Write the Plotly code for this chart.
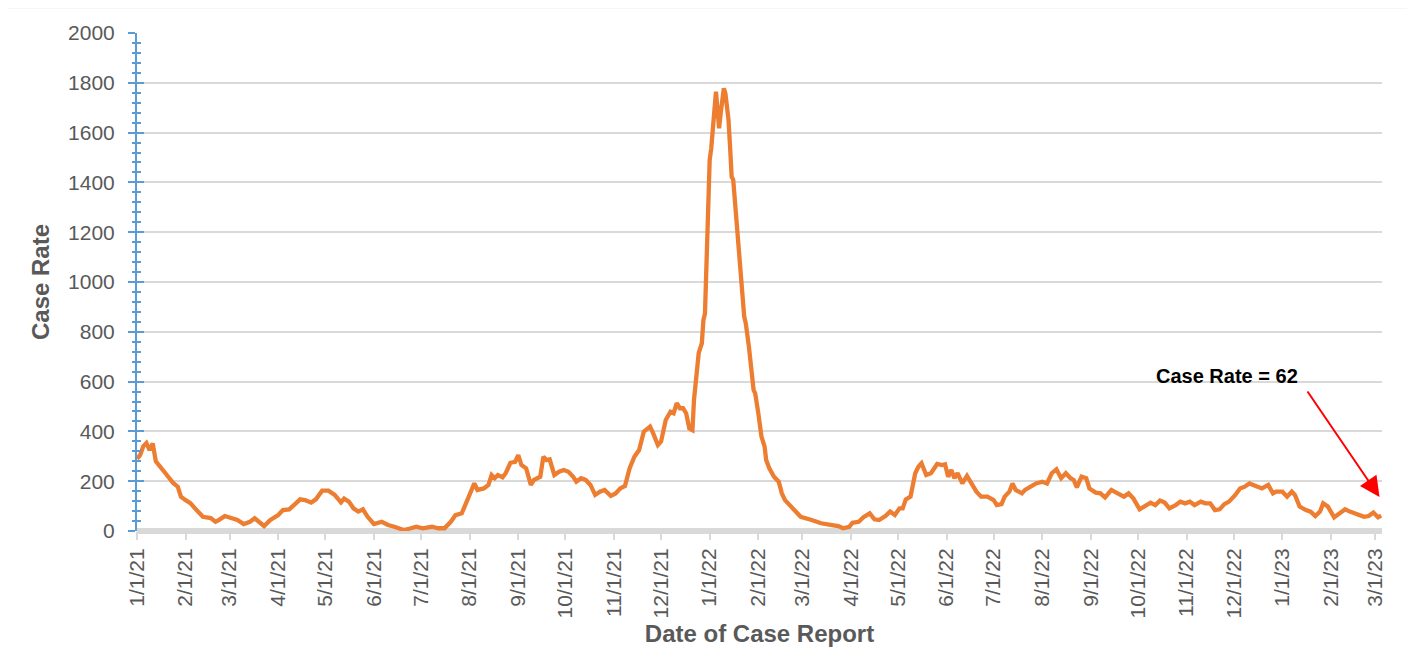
import plotly.graph_objects as go

# ---- data ----
report_dates = [
    "2021-01-01", "2021-01-03", "2021-01-05", "2021-01-07", "2021-01-09", "2021-01-11", "2021-01-13",
    "2021-01-16", "2021-01-19", "2021-01-21", "2021-01-24", "2021-01-27", "2021-01-29",
    "2021-02-01", "2021-02-04", "2021-02-08", "2021-02-12", "2021-02-17", "2021-02-20", "2021-02-22", "2021-02-26",
    "2021-03-02", "2021-03-06", "2021-03-10", "2021-03-14", "2021-03-17", "2021-03-20", "2021-03-23", "2021-03-27",
    "2021-04-01", "2021-04-04", "2021-04-08", "2021-04-11", "2021-04-15", "2021-04-18", "2021-04-22", "2021-04-25", "2021-04-29",
    "2021-05-03", "2021-05-07", "2021-05-11", "2021-05-13", "2021-05-16", "2021-05-19", "2021-05-22", "2021-05-25", "2021-05-28",
    "2021-06-01", "2021-06-06", "2021-06-10", "2021-06-14", "2021-06-20", "2021-06-24", "2021-06-28",
    "2021-07-02", "2021-07-08", "2021-07-12", "2021-07-16", "2021-07-20", "2021-07-23", "2021-07-27", "2021-07-30",
    "2021-08-02", "2021-08-04", "2021-08-06", "2021-08-10", "2021-08-13", "2021-08-15", "2021-08-17", "2021-08-19",
    "2021-08-22", "2021-08-24", "2021-08-27", "2021-08-30",
    "2021-09-01", "2021-09-03", "2021-09-06", "2021-09-09", "2021-09-11", "2021-09-15", "2021-09-17", "2021-09-19",
    "2021-09-21", "2021-09-24", "2021-09-27", "2021-09-30",
    "2021-10-03", "2021-10-06", "2021-10-08", "2021-10-11", "2021-10-14", "2021-10-17", "2021-10-20", "2021-10-23",
    "2021-10-26", "2021-10-30",
    "2021-11-02", "2021-11-05", "2021-11-08", "2021-11-11", "2021-11-14", "2021-11-17", "2021-11-20", "2021-11-24",
    "2021-11-26", "2021-11-29",
    "2021-12-01", "2021-12-04", "2021-12-07", "2021-12-09", "2021-12-11", "2021-12-13", "2021-12-15", "2021-12-17",
    "2021-12-19", "2021-12-21", "2021-12-22", "2021-12-23", "2021-12-25", "2021-12-27", "2021-12-28", "2021-12-29",
    "2021-12-31",
    "2022-01-01", "2022-01-02", "2022-01-04", "2022-01-05", "2022-01-06", "2022-01-07", "2022-01-08", "2022-01-10",
    "2022-01-11", "2022-01-13", "2022-01-14", "2022-01-15", "2022-01-16", "2022-01-18", "2022-01-19", "2022-01-21",
    "2022-01-23", "2022-01-24", "2022-01-26", "2022-01-29", "2022-01-30",
    "2022-02-01", "2022-02-03", "2022-02-05", "2022-02-06", "2022-02-08", "2022-02-11", "2022-02-14", "2022-02-16",
    "2022-02-18", "2022-02-21", "2022-02-24", "2022-02-28",
    "2022-03-07", "2022-03-13", "2022-03-20", "2022-03-24", "2022-03-27", "2022-03-31",
    "2022-04-02", "2022-04-06", "2022-04-09", "2022-04-13", "2022-04-16", "2022-04-19", "2022-04-23", "2022-04-26",
    "2022-04-29",
    "2022-05-02", "2022-05-04", "2022-05-06", "2022-05-09", "2022-05-12", "2022-05-14", "2022-05-16", "2022-05-19",
    "2022-05-22", "2022-05-26", "2022-05-29", "2022-05-31",
    "2022-06-02", "2022-06-04", "2022-06-06", "2022-06-08", "2022-06-11", "2022-06-14", "2022-06-17", "2022-06-20",
    "2022-06-23", "2022-06-27",
    "2022-07-01", "2022-07-03", "2022-07-06", "2022-07-08", "2022-07-11", "2022-07-13", "2022-07-15", "2022-07-19",
    "2022-07-21", "2022-07-25", "2022-07-28",
    "2022-08-01", "2022-08-04", "2022-08-07", "2022-08-10", "2022-08-13", "2022-08-16", "2022-08-19", "2022-08-21",
    "2022-08-23", "2022-08-26", "2022-08-29", "2022-08-31",
    "2022-09-04", "2022-09-07", "2022-09-10", "2022-09-14", "2022-09-18", "2022-09-22", "2022-09-25", "2022-09-28",
    "2022-10-02", "2022-10-05", "2022-10-09", "2022-10-12", "2022-10-15", "2022-10-18", "2022-10-21", "2022-10-25",
    "2022-10-28", "2022-10-31",
    "2022-11-03", "2022-11-06", "2022-11-10", "2022-11-13", "2022-11-16", "2022-11-19", "2022-11-22", "2022-11-25",
    "2022-11-28",
    "2022-12-02", "2022-12-05", "2022-12-08", "2022-12-11", "2022-12-15", "2022-12-19", "2022-12-23", "2022-12-26",
    "2022-12-28",
    "2023-01-01", "2023-01-04", "2023-01-07", "2023-01-09", "2023-01-12", "2023-01-16", "2023-01-19", "2023-01-22",
    "2023-01-25", "2023-01-27", "2023-01-30",
    "2023-02-03", "2023-02-06", "2023-02-10", "2023-02-13", "2023-02-18", "2023-02-22", "2023-02-25", "2023-02-28",
    "2023-03-03", "2023-03-05",
]

case_rate = [
    290, 305, 340, 353, 325, 352, 280,
    253, 233, 217, 193, 178, 138,
    124, 112, 84, 57, 52, 37, 44, 60,
    52, 44, 28, 37, 51, 33, 20, 44,
    64, 84, 87, 104, 127, 124, 114, 127, 162,
    162, 145, 115, 130, 118, 91, 78, 87, 57,
    28, 37, 24, 17, 4, 10, 17,
    11, 17, 11, 11, 37, 64, 71, 118,
    171, 191, 165, 171, 185, 225, 212, 225,
    216, 232, 274, 278,
    305, 265, 252, 185, 205, 218, 298, 285,
    288, 225, 238, 245,
    238, 218, 198, 212, 205, 185, 145, 158,
    165, 141,
    151, 171, 181, 252, 298, 325, 399, 419,
    392, 345,
    359, 446, 479, 473, 513, 493, 493, 473,
    412, 405, 526, 600, 714, 754, 847, 874,
    1329,
    1490, 1537, 1691, 1764, 1691, 1617, 1677, 1778,
    1758, 1651, 1543, 1423, 1410, 1249, 1142, 981,
    861, 834, 740, 566, 553,
    473, 379, 339, 285, 252, 218, 198, 151,
    124, 104, 78, 57,
    44, 31, 24, 20, 11, 17,
    33, 37, 55, 71, 47, 44, 60, 78,
    64,
    91, 91, 127, 138, 232, 258, 272, 225,
    232, 269, 265, 268,
    218, 245, 212, 232, 191, 221, 185, 158,
    138, 138,
    124, 104, 108, 138, 158, 191, 165, 151,
    165, 178, 191,
    198, 191, 232, 248, 212, 232, 212, 205,
    175, 218, 212, 171,
    154, 151, 135, 165, 151, 138, 151, 131,
    87, 98, 114, 104, 122, 114, 91, 104,
    118, 111,
    118, 104, 118, 111, 111, 84, 87, 108,
    118,
    145, 171, 178, 191, 181, 171, 185, 151,
    158,
    158, 138, 158, 145, 98, 84, 78, 60,
    78, 111, 98,
    55, 71, 87, 78, 64, 57, 60, 74,
    55, 62,
]

y_ticks = [0, 200, 400, 600, 800, 1000, 1200, 1400, 1600, 1800, 2000]
x_range = ["2021-01-01", "2023-03-05 12:00"]
y_range = [0, 2000]

# ---- layout geometry (pixels) ----
# the HTML page body has an 8px default margin; the figure is sized and
# positioned so that it lands on the same window pixels as the reference.
OFF = 8
W, H = 1415 - OFF, 651 - OFF
ML, MT = 137 - OFF, 33 - OFF
MR = W - (1382 - OFF)
MB = H - (531 - OFF)
PW, PH = W - ML - MR, H - MT - MB

FONT = "Liberation Sans, Arial, sans-serif"
GREY_TXT = "#595959"
GRID = "#d9d9d9"
BLUE = "#5B9BD5"
ORANGE = "#ED7D31"

fig = go.Figure()
fig.add_trace(go.Scatter(
    x=report_dates, y=case_rate, mode="lines",
    line=dict(color=ORANGE, width=4.3), name="Case Rate",
    hoverinfo="x+y",
))
# invisible companion trace so the overlay axis (inner tick halves) is drawn
fig.add_trace(go.Scatter(
    x=report_dates[:1], y=case_rate[:1], mode="markers", yaxis="y2",
    marker=dict(opacity=0), hoverinfo="skip", showlegend=False,
))

fig.update_layout(
    width=W, height=H,
    margin=dict(l=ML, r=MR, t=MT, b=MB, autoexpand=False),
    paper_bgcolor="white", plot_bgcolor="white",
    showlegend=False,
    font=dict(family=FONT, color=GREY_TXT),
    xaxis=dict(
        type="date", range=x_range,
        tick0="2021-01-01", dtick="M1", tickformat="%-m/%-d/%y",
        tickangle=-90, ticks="outside", ticklen=8, tickwidth=1.5, tickcolor=GRID,
        tickfont=dict(size=21, color=GREY_TXT, family=FONT),
        showgrid=False, showline=False, zeroline=False,
        automargin=False,
        title=dict(text="<b>Date of Case Report</b>", font=dict(size=24, color=GREY_TXT, family=FONT), standoff=7),
    ),
    yaxis=dict(
        range=y_range, tickmode="array", tickvals=y_ticks, ticktext=[str(v) for v in y_ticks],
        ticks="outside", ticklen=7, tickwidth=2, tickcolor=BLUE,
        minor=dict(dtick=40, ticks="outside", ticklen=3.5, tickwidth=1.5, tickcolor=BLUE, showgrid=False),
        tickfont=dict(size=21, color=GREY_TXT, family=FONT),
        ticklabelstandoff=9,
        showline=True, linecolor=BLUE, linewidth=2,
        showgrid=True, gridcolor=GRID, gridwidth=1.5,
        zeroline=True, zerolinecolor=GRID, zerolinewidth=6,
        automargin=False,
        title=dict(text="<b>Case Rate</b>", font=dict(size=24, color=GREY_TXT, family=FONT), standoff=12),
    ),
    yaxis2=dict(
        overlaying="y", anchor="x", side="left", range=y_range,
        tickmode="array", tickvals=y_ticks,
        ticks="inside", ticklen=7, tickwidth=2, tickcolor=BLUE,
        minor=dict(dtick=40, ticks="inside", ticklen=3.5, tickwidth=1.5, tickcolor=BLUE, showgrid=False),
        showticklabels=False, showgrid=False, zeroline=False, showline=False,
    ),
)

def px_to_paper_x(px):
    """window pixel -> paper coordinate"""
    return (px - OFF - ML) / PW

def px_to_paper_y(py):
    return (H - MB - (py - OFF)) / PH

# outer chart frame
fig.add_shape(
    type="rect", xref="paper", yref="paper",
    x0=px_to_paper_x(4), x1=px_to_paper_x(1409.5),
    y0=px_to_paper_y(662), y1=px_to_paper_y(7.5),
    line=dict(color=GRID, width=1.5), fillcolor="rgba(0,0,0,0)", layer="below",
)

# callout text
fig.add_annotation(
    xref="paper", yref="paper", x=px_to_paper_x(1227), y=px_to_paper_y(376),
    text="<b>Case Rate = 62</b>", showarrow=False,
    font=dict(size=20, color="black", family=FONT),
    xanchor="center", yanchor="middle",
)
# red arrow pointing at the latest value
fig.add_annotation(
    xref="paper", yref="paper", x=px_to_paper_x(1379.5), y=px_to_paper_y(497),
    text="", showarrow=True, axref="pixel", ayref="pixel", ax=-73, ay=-107,
    arrowcolor="#FF0000", arrowwidth=2, arrowhead=2, arrowsize=2, standoff=0,
)

fig.write_html("out.html")
